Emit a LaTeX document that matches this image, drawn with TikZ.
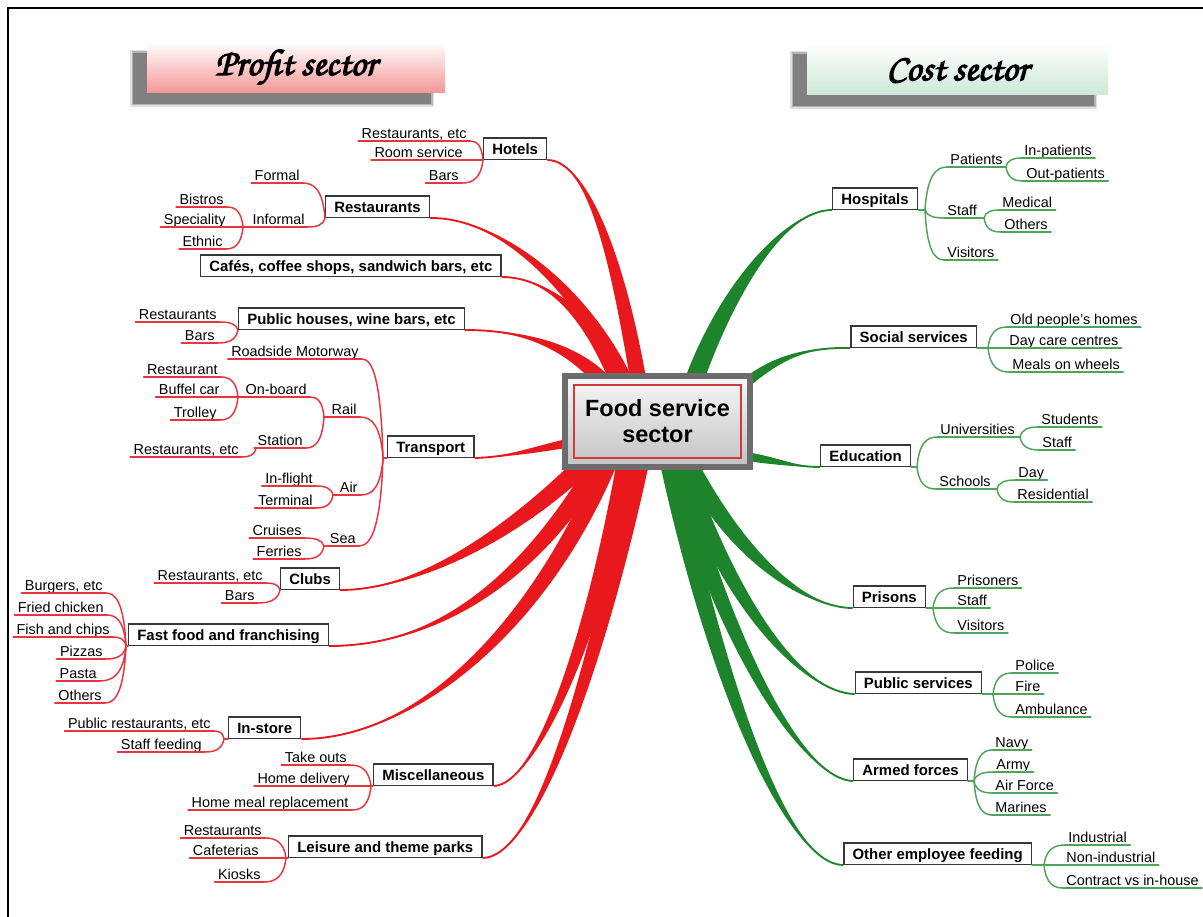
\documentclass[tikz,border=0pt]{standalone}
\usepackage[T1]{fontenc}
\usepackage{fontspec}
\setmainfont{Liberation Sans}
\usetikzlibrary{calc}

\definecolor{redmain}{RGB}{232,24,28}
\definecolor{redleaf}{RGB}{232,52,60}
\definecolor{greenmain}{RGB}{30,132,44}
\definecolor{greenleaf}{RGB}{78,164,88}
\definecolor{boxline}{RGB}{55,55,55}
\definecolor{pinkb}{RGB}{244,150,150}
\definecolor{mintb}{RGB}{205,233,214}
\definecolor{shadowgray}{RGB}{128,128,128}
\definecolor{hubrim}{RGB}{108,108,108}
\definecolor{hubred}{RGB}{205,60,60}

\newcommand\titlehand{\fontencoding{T1}\fontfamily{pzc}\fontseries{m}\fontshape{it}\selectfont}
% heavier script lettering: fill and stroke the glyphs
\newcommand\heavy[1]{\special{pdf:literal direct 2 Tr 0.9 w}#1\special{pdf:literal direct 0 Tr}}

\pgfdeclarelayer{bg}
\pgfsetlayers{bg,main}

% tapered main branch: colour, half width at hub, start, control 1, control 2, end
\newcommand\twig[6]{%
  \fill[#1] (#3) .. controls (#4) and ($(#5)!#2!90:(#6)$) .. ($(#6)!#2!-90:(#5)$)
    -- ($(#6)!#2!90:(#5)$) .. controls ($(#5)!#2!-90:(#6)$) and (#4) .. (#3) -- cycle;
  \draw[#1, line width=1.4pt] (#3) .. controls (#4) and (#5) .. (#6);
}

% underlined label joined to its parent junction: style, name, anchor, position, text, junction
\newcommand\sprig[6]{%
  \node[leaf, anchor=#3] (#2) at (#4) {#5};
  \draw[#1] (#2.south west) -- (#2.south east);
  \draw[#1] let \p1=(#2.#3), \p2=(#6) in
    (\p1) .. controls ({\x1+0.5*(\x2-\x1)},\y1) and ({\x2-0.1*(\x2-\x1)},{\y2+0.8*(\y1-\y2)}) .. (\p2);
}

\begin{document}
\begin{tikzpicture}[x=0.75pt,y=-0.75pt,
  leaf/.style={font=\fontsize{10.8}{12}\selectfont, inner xsep=2.4pt, inner ysep=2pt,
    text height=7.8pt, text depth=0pt},
  topic/.style={draw=boxline, line width=1pt, fill=white,
    font=\fontsize{11.2}{13}\selectfont\bfseries, inner xsep=6.5pt, inner ysep=0.5pt,
    text height=12pt, text depth=2.9pt},
  rsprig/.style={redleaf, line width=1.1pt, line cap=round},
  gsprig/.style={greenleaf, line width=1.1pt, line cap=round},
  hub/.style={draw=hubrim, line width=4.8pt, top color=black!3, bottom color=black!24,
    minimum width=138.75pt, minimum height=68.25pt, align=center,
    font=\fontsize{17.6}{19.5}\selectfont\bfseries},
  banner/.style={inner sep=0pt, font=\titlehand\fontsize{28}{30}\selectfont}
]
\useasboundingbox (0,0) rectangle (1203,917);

% outer frame
\draw[line width=2.2pt] (8,925) -- (8,8) -- (1215,8);

% ---------- banners ----------
\foreach \g/\o in {3/0.25,1.5/0.45,0/1}{
  \fill[shadowgray, opacity=\o] (133-\g,53-\g) rectangle (431+\g,104+\g);
  \fill[shadowgray, opacity=\o] (793-\g,54-\g) rectangle (1094+\g,106+\g);
}
\node[banner, minimum width=223.5pt, minimum height=38.25pt,
  top color=white, bottom color=pinkb] (profit) at (296,67.5) {\heavy{Profit sector}};
\node[banner, minimum width=225.75pt, minimum height=39pt,
  top color=white, bottom color=mintb] (cost) at (957.5,69) {\heavy{Cost sector}};

% ---------- hub ----------
\node[hub] (fss) at (657.5,421.5) {Food service\\sector};
\draw[hubred, line width=0.8pt] ($(fss.center)+(-83.5,-36.5)$) rectangle ($(fss.center)+(83.5,36.5)$);

% ---------- profit sector ----------
% Hotels
\coordinate (hotJ) at (483,160);
\node[topic, anchor=south west] (hotels) at (hotJ) {Hotels};
\sprig{rsprig}{hot1}{south east}{470,141}{Restaurants, etc}{hotJ}
\sprig{rsprig}{hot2}{south east}{466,160}{Room service}{hotJ}
\sprig{rsprig}{hot3}{south east}{462,183}{Bars}{hotJ}

% Restaurants
\coordinate (resJ) at (325,218);
\node[topic, anchor=south west] (restaurants) at (resJ) {Restaurants};
\sprig{rsprig}{res1}{south east}{303,183}{Formal}{resJ}
\sprig{rsprig}{res2}{south east}{308,227}{Informal}{resJ}
\coordinate (infJ) at (243,227);
\draw[rsprig] (infJ) -- (res2.south west);
\sprig{rsprig}{inf1}{south east}{227,207}{Bistros}{infJ}
\sprig{rsprig}{inf2}{south east}{229,227}{Speciality}{infJ}
\sprig{rsprig}{inf3}{south east}{226,249}{Ethnic}{infJ}

% Cafes
\node[topic, anchor=south west] (cafes) at (200,277) {Cafés, coffee shops, sandwich bars, etc};

% Public houses
\coordinate (pubJ) at (238,330);
\node[topic, anchor=south west] (pubs) at (pubJ) {Public houses, wine bars, etc};
\sprig{rsprig}{pub1}{south east}{220,322}{Restaurants}{pubJ}
\sprig{rsprig}{pub2}{south east}{218,343}{Bars}{pubJ}

% Transport
\coordinate (traJ) at (383,458);
\node[topic, anchor=south west] (transport) at (387,458) {Transport};
\draw[rsprig] (traJ) -- (transport.south west);
\sprig{rsprig}{tra1}{south east}{362,359}{Roadside Motorway}{traJ}
\sprig{rsprig}{tra2}{south east}{360,417}{Rail}{traJ}
\coordinate (railJ) at (324,417);
\draw[rsprig] (railJ) -- (tra2.south west);
\sprig{rsprig}{rail1}{south east}{310,397}{On-board}{railJ}
\coordinate (onbJ) at (238,397);
\draw[rsprig] (onbJ) -- (rail1.south west);
\sprig{rsprig}{onb1}{south east}{221,377}{Restaurant}{onbJ}
\sprig{rsprig}{onb2}{south east}{223,397}{Buffel car}{onbJ}
\sprig{rsprig}{onb3}{south east}{220,420}{Trolley}{onbJ}
\sprig{rsprig}{rail2}{south east}{306,448}{Station}{railJ}
\coordinate (staJ) at (256,448);
\draw[rsprig] (staJ) -- (rail2.south west);
\sprig{rsprig}{sta1}{south east}{242,457}{Restaurants, etc}{staJ}
\sprig{rsprig}{tra3}{south east}{361,495}{Air}{traJ}
\coordinate (airJ) at (333,495);
\draw[rsprig] (airJ) -- (tra3.south west);
\sprig{rsprig}{air1}{south east}{316,486}{In-flight}{airJ}
\sprig{rsprig}{air2}{south east}{316,508}{Terminal}{airJ}
\sprig{rsprig}{tra4}{south east}{359,546}{Sea}{traJ}
\coordinate (seaJ) at (324,546);
\draw[rsprig] (seaJ) -- (tra4.south west);
\sprig{rsprig}{sea1}{south east}{305,538}{Cruises}{seaJ}
\sprig{rsprig}{sea2}{south east}{305,559}{Ferries}{seaJ}

% Clubs
\coordinate (cluJ) at (280,590);
\node[topic, anchor=south west] (clubs) at (cluJ) {Clubs};
\sprig{rsprig}{clu1}{south east}{266,583}{Restaurants, etc}{cluJ}
\sprig{rsprig}{clu2}{south east}{258,603}{Bars}{cluJ}

% Fast food
\coordinate (fasJ) at (126,646);
\node[topic, anchor=south west] (fastfood) at (128,646) {Fast food and franchising};
\draw[rsprig] (fasJ) -- (fastfood.south west);
\sprig{rsprig}{fas1}{south east}{106,593}{Burgers, etc}{fasJ}
\sprig{rsprig}{fas2}{south east}{107,615}{Fried chicken}{fasJ}
\sprig{rsprig}{fas3}{south east}{113,637}{Fish and chips}{fasJ}
\sprig{rsprig}{fas4}{south east}{106,659}{Pizzas}{fasJ}
\sprig{rsprig}{fas5}{south east}{100,681}{Pasta}{fasJ}
\sprig{rsprig}{fas6}{south east}{105,703}{Others}{fasJ}

% In-store
\coordinate (insJ) at (224,739);
\node[topic, anchor=south west] (instore) at (228,739) {In-store};
\draw[rsprig] (insJ) -- (instore.south west);
\sprig{rsprig}{ins1}{south east}{214,731}{Public restaurants, etc}{insJ}
\sprig{rsprig}{ins2}{south east}{205,752}{Staff feeding}{insJ}

% Miscellaneous
\coordinate (misJ) at (371,786);
\node[topic, anchor=south west] (misc) at (373,786) {Miscellaneous};
\draw[rsprig] (misJ) -- (misc.south west);
\sprig{rsprig}{mis1}{south east}{350,765}{Take outs}{misJ}
\sprig{rsprig}{mis2}{south east}{353,786}{Home delivery}{misJ}
\sprig{rsprig}{mis3}{south east}{352,810}{Home meal replacement}{misJ}

% Leisure
\coordinate (leiJ) at (286,858);
\node[topic, anchor=south west] (leisure) at (288,858) {Leisure and theme parks};
\draw[rsprig] (leiJ) -- (leisure.south west);
\sprig{rsprig}{lei1}{south east}{265,838}{Restaurants}{leiJ}
\sprig{rsprig}{lei2}{south east}{262,858}{Cafeterias}{leiJ}
\sprig{rsprig}{lei3}{south east}{264,882}{Kiosks}{leiJ}

% ---------- cost sector ----------
% Hospitals
\coordinate (hosJ) at (925,210);
\node[topic, anchor=south east] (hospitals) at (918,210) {Hospitals};
\draw[gsprig] (hospitals.south east) -- (hosJ);
\sprig{gsprig}{hos1}{south west}{947,167}{Patients}{hosJ}
\coordinate (patJ) at (1006,167);
\draw[gsprig] (hos1.south east) -- (patJ);
\sprig{gsprig}{pat1}{south west}{1021,158}{In-patients}{patJ}
\sprig{gsprig}{pat2}{south west}{1023,181}{Out-patients}{patJ}
\sprig{gsprig}{hos2}{south west}{944,218}{Staff}{hosJ}
\coordinate (stfJ) at (984,218);
\draw[gsprig] (hos2.south east) -- (stfJ);
\sprig{gsprig}{stf1}{south west}{999,210}{Medical}{stfJ}
\sprig{gsprig}{stf2}{south west}{1001,232}{Others}{stfJ}
\sprig{gsprig}{hos3}{south west}{944,260}{Visitors}{hosJ}

% Social services
\coordinate (socJ) at (988,348);
\node[topic, anchor=south east] (social) at (977,348) {Social services};
\draw[gsprig] (social.south east) -- (socJ);
\sprig{gsprig}{soc1}{south west}{1007,327}{Old people’s homes}{socJ}
\sprig{gsprig}{soc2}{south west}{1006,348}{Day care centres}{socJ}
\sprig{gsprig}{soc3}{south west}{1009,372}{Meals on wheels}{socJ}

% Education
\coordinate (eduJ) at (917,467);
\node[topic, anchor=south east] (education) at (911,467) {Education};
\draw[gsprig] (education.south east) -- (eduJ);
\sprig{gsprig}{edu1}{south west}{937,437}{Universities}{eduJ}
\coordinate (uniJ) at (1020,437);
\draw[gsprig] (edu1.south east) -- (uniJ);
\sprig{gsprig}{uni1}{south west}{1038,427}{Students}{uniJ}
\sprig{gsprig}{uni2}{south west}{1039,450}{Staff}{uniJ}
\sprig{gsprig}{edu2}{south west}{936,489}{Schools}{eduJ}
\coordinate (schJ) at (997,489);
\draw[gsprig] (edu2.south east) -- (schJ);
\sprig{gsprig}{sch1}{south west}{1015,480}{Day}{schJ}
\sprig{gsprig}{sch2}{south west}{1014,502}{Residential}{schJ}

% Prisons
\coordinate (priJ) at (933,608);
\node[topic, anchor=south east] (prisons) at (926,608) {Prisons};
\draw[gsprig] (prisons.south east) -- (priJ);
\sprig{gsprig}{pri1}{south west}{954,588}{Prisoners}{priJ}
\sprig{gsprig}{pri2}{south west}{954,608}{Staff}{priJ}
\sprig{gsprig}{pri3}{south west}{954,633}{Visitors}{priJ}

% Public services
\coordinate (pusJ) at (993,694);
\node[topic, anchor=south east] (publicserv) at (982,694) {Public services};
\draw[gsprig] (publicserv.south east) -- (pusJ);
\sprig{gsprig}{pus1}{south west}{1012,673}{Police}{pusJ}
\sprig{gsprig}{pus2}{south west}{1012,694}{Fire}{pusJ}
\sprig{gsprig}{pus3}{south west}{1012,717}{Ambulance}{pusJ}

% Armed forces
\coordinate (armJ) at (974,781);
\node[topic, anchor=south east] (armed) at (968,781) {Armed forces};
\draw[gsprig] (armed.south east) -- (armJ);
\sprig{gsprig}{arm1}{south west}{992,750}{Navy}{armJ}
\sprig{gsprig}{arm2}{south west}{993,772}{Army}{armJ}
\sprig{gsprig}{arm3}{south west}{992,793}{Air Force}{armJ}
\sprig{gsprig}{arm4}{south west}{992,815}{Marines}{armJ}

% Other employee feeding
\coordinate (othJ) at (1044,865);
\node[topic, anchor=south east] (other) at (1032,865) {Other employee feeding};
\draw[gsprig] (other.south east) -- (othJ);
\sprig{gsprig}{oth1}{south west}{1065,845}{Industrial}{othJ}
\sprig{gsprig}{oth2}{south west}{1063,865}{Non-industrial}{othJ}
\sprig{gsprig}{oth3}{south west}{1063,888}{Contract vs in-house}{othJ}

% ---------- main branches into the hub ----------
\coordinate (eHot) at ($(fss.center)+(-17.5,-31.5)$);
\coordinate (eRes) at ($(fss.center)+(-27.5,-29.5)$);
\coordinate (eCaf) at ($(fss.center)+(-35.5,-29.5)$);
\coordinate (ePub) at ($(fss.center)+(-45.5,-29.5)$);
\coordinate (eTra) at ($(fss.center)+(-72.5,18.5)$);
\coordinate (eClu) at ($(fss.center)+(-59.5,28.5)$);
\coordinate (eFas) at ($(fss.center)+(-52.5,30.5)$);
\coordinate (eIns) at ($(fss.center)+(-45.5,30.5)$);
\coordinate (eMis) at ($(fss.center)+(-29.5,30.5)$);
\coordinate (eLei) at ($(fss.center)+(-15.5,30.5)$);
\coordinate (eHos) at ($(fss.center)+(32.5,-29.5)$);
\coordinate (eSoc) at ($(fss.center)+(70.5,-23.5)$);
\coordinate (eEdu) at ($(fss.center)+(77.5,33.5)$);
\coordinate (ePri) at ($(fss.center)+(24.5,30.5)$);
\coordinate (ePus) at ($(fss.center)+(19.5,30.5)$);
\coordinate (eArm) at ($(fss.center)+(14.5,30.5)$);
\coordinate (eOth) at ($(fss.center)+(9.5,30.5)$);

\begin{pgfonlayer}{bg}
\twig{redmain}{6pt}{hotels.south east}{590,160}{620,270}{eHot}
\twig{redmain}{6pt}{restaurants.south east}{500,217}{585,290}{eRes}
\twig{redmain}{6pt}{cafes.south east}{550,277}{595,320}{eCaf}
\twig{redmain}{6pt}{pubs.south east}{530,330}{580,350}{ePub}
\twig{redmain}{3.5pt}{transport.south east}{510,457}{545,447}{eTra}
\twig{redmain}{7pt}{clubs.south east}{420,590}{520,530}{eClu}
\twig{redmain}{7pt}{fastfood.south east}{440,646}{535,575}{eFas}
\twig{redmain}{7pt}{instore.south east}{420,739}{545,620}{eIns}
\twig{redmain}{7pt}{misc.south east}{535,785}{595,640}{eMis}
\twig{redmain}{7pt}{leisure.south east}{540,857}{600,650}{eLei}
\twig{greenmain}{7pt}{hospitals.south west}{785,210}{725,290}{eHos}
\twig{greenmain}{4pt}{social.south west}{800,347}{770,360}{eSoc}
\twig{greenmain}{3.5pt}{education.south west}{795,467}{775,460}{eEdu}
\twig{greenmain}{7pt}{prisons.south west}{810,608}{740,565}{ePri}
\twig{greenmain}{7pt}{publicserv.south west}{805,693}{730,610}{ePus}
\twig{greenmain}{7pt}{armed.south west}{805,780}{725,650}{eArm}
\twig{greenmain}{7pt}{other.south west}{790,865}{720,700}{eOth}
\end{pgfonlayer}

\end{tikzpicture}
\end{document}
